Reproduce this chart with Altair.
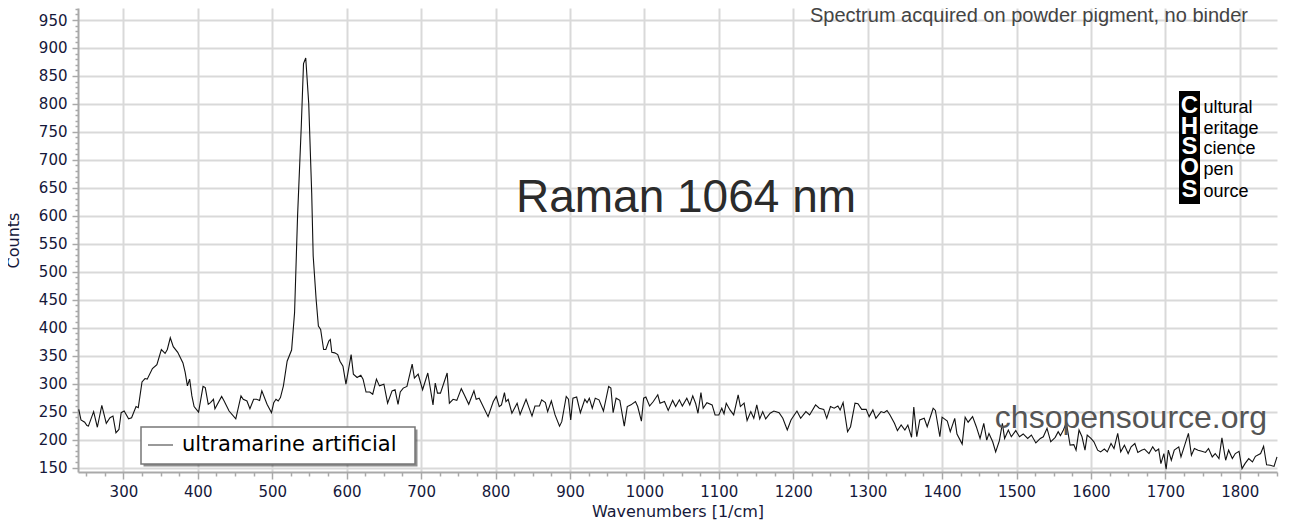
import altair as alt
import pandas as pd

series_name = "ultramarine artificial"

wavenumber = [
    240, 243, 248, 251, 253, 260, 265, 271, 277, 282, 286, 290, 294, 297, 301, 307, 311, 317, 320,
    325, 329, 332, 339, 345, 351, 356, 359, 363, 367, 373, 380, 383, 386, 389, 392, 395, 401, 407,
    410, 414, 417, 421, 423, 432, 435, 442, 451, 458, 461, 466, 470, 475, 479, 483, 486, 493, 499,
    502, 505, 508, 511, 515, 520, 526, 530, 534, 539, 542, 545, 549, 553, 555, 559, 562, 565, 569,
    572, 576, 578, 580, 584, 588, 591, 595, 599, 606, 609, 614, 619, 622, 626, 631, 635, 640, 644,
    650, 655, 661, 665, 669, 672, 676, 681, 688, 691, 696, 702, 709, 716, 719, 722, 726, 735, 738,
    743, 748, 754, 758, 764, 771, 774, 778, 790, 797, 801, 805, 808, 812, 814, 817, 822, 829, 833,
    841, 849, 853, 859, 862, 867, 870, 875, 880, 886, 889, 895, 898, 901, 904, 909, 914, 920, 923,
    926, 930, 934, 939, 945, 952, 955, 958, 962, 967, 973, 977, 982, 988, 991, 996, 999, 1002, 1007,
    1012, 1018, 1021, 1027, 1032, 1038, 1042, 1047, 1051, 1057, 1061, 1065, 1069, 1072, 1076, 1079,
    1084, 1091, 1095, 1100, 1104, 1107, 1110, 1115, 1120, 1126, 1129, 1134, 1138, 1143, 1147, 1151,
    1155, 1159, 1163, 1169, 1174, 1181, 1186, 1192, 1197, 1205, 1210, 1217, 1222, 1230, 1235, 1241,
    1245, 1250, 1255, 1260, 1263, 1267, 1273, 1277, 1283, 1287, 1292, 1298, 1302, 1307, 1311, 1318,
    1322, 1326, 1330, 1336, 1340, 1345, 1350, 1354, 1359, 1362, 1366, 1370, 1376, 1380, 1388, 1391,
    1397, 1400, 1407, 1411, 1417, 1420, 1427, 1431, 1435, 1441, 1446, 1451, 1456, 1460, 1463, 1468,
    1472, 1477, 1481, 1484, 1489, 1493, 1499, 1504, 1509, 1515, 1520, 1526, 1532, 1536, 1541, 1546,
    1552, 1556, 1559, 1563, 1567, 1572, 1577, 1580, 1584, 1588, 1592, 1595, 1600, 1604, 1609, 1613,
    1618, 1622, 1627, 1631, 1636, 1640, 1645, 1650, 1654, 1659, 1663, 1668, 1672, 1678, 1683, 1687,
    1691, 1694, 1698, 1701, 1704, 1708, 1712, 1718, 1721, 1726, 1731, 1735, 1739, 1744, 1749, 1754,
    1758, 1763, 1767, 1772, 1776, 1781, 1785, 1790, 1794, 1799, 1803, 1807, 1812, 1817, 1821, 1828,
    1832, 1836, 1841, 1846, 1850,
]

counts = [
    254, 235, 231, 225, 224, 250, 222, 261, 229, 239, 242, 212, 218, 248, 251, 237, 239, 259, 257,
    303, 309, 308, 327, 334, 361, 354, 361, 382, 366, 356, 337, 320, 296, 308, 278, 259, 249, 295,
    293, 263, 266, 272, 255, 277, 270, 251, 237, 278, 272, 269, 255, 272, 272, 270, 287, 263, 248,
    266, 272, 269, 275, 296, 340, 360, 427, 599, 760, 872, 882, 801, 641, 528, 450, 403, 397, 361,
    361, 376, 379, 356, 355, 352, 340, 331, 299, 352, 317, 311, 315, 308, 285, 285, 281, 308, 296,
    299, 265, 287, 289, 263, 285, 292, 295, 335, 310, 317, 289, 319, 262, 301, 283, 283, 319, 265,
    272, 270, 291, 280, 263, 287, 272, 274, 241, 268, 277, 259, 262, 284, 268, 272, 247, 265, 245,
    272, 242, 260, 260, 271, 266, 250, 269, 244, 224, 232, 277, 272, 235, 274, 276, 248, 272, 266,
    274, 256, 274, 271, 251, 295, 292, 248, 274, 270, 224, 259, 262, 268, 259, 233, 274, 276, 260,
    268, 280, 265, 268, 252, 270, 259, 271, 260, 274, 262, 278, 264, 247, 284, 256,
    266, 262, 244, 244, 256, 246, 265, 253, 244, 280, 259, 265, 234, 250, 238, 262,
    237, 250, 237, 247, 251, 248, 238, 217, 235, 251, 238, 250, 244, 262, 256, 254,
    238, 259, 256, 260, 253, 266, 214, 223, 265, 264, 254, 254, 241, 253, 238, 250,
    248, 252, 244, 229, 216, 226, 217, 226, 204, 258, 205, 235, 238, 223, 256, 252,
    205, 240, 233, 214, 238, 210, 192, 240, 231, 241, 223, 202, 229, 199, 211, 196,
    178, 198, 229, 202, 217, 205, 216, 205, 210, 202, 208, 194, 202, 205, 220, 196,
    204, 214, 207, 217, 230, 190, 191, 181, 217, 205, 181, 208, 202, 196, 181, 178,
    183, 178, 193, 184, 211, 178, 190, 175, 187, 193, 177, 181, 183, 175, 187, 179,
    183, 157, 175, 147, 181, 163, 181, 187, 169, 190, 211, 172, 184, 181, 179, 177,
    184, 169, 175, 166, 203, 163, 181, 166, 175, 179, 148, 157, 166, 160, 170, 175,
    188, 155, 154, 152, 169,
]

x_ticks = list(range(250, 1851, 25))
y_ticks = list(range(150, 971, 10))

logo_letters = ["C", "H", "S", "O", "S"]
logo_words = ["ultural", "eritage", "cience", "pen", "ource"]

note_text = "Spectrum acquired on powder pigment, no binder"
big_title = "Raman 1064 nm"
site_text = "chsopensource.org"

df = pd.DataFrame({"wn": wavenumber, "counts": counts, "series": series_name})
legend_df = pd.DataFrame({"wn": pd.Series([], dtype=float),
                          "counts": pd.Series([], dtype=float),
                          "series": pd.Series([], dtype=str)})

LBL = "#15183a"
axis_common = dict(
    labelFont="DejaVu Sans", labelFontSize=15, labelColor=LBL,
    titleFont="DejaVu Sans", titleFontSize=16, titleColor=LBL, titleFontWeight="normal",
    domainColor="#a9a9a9", domainWidth=2, tickColor="#a9a9a9", tickWidth=1.5,
    gridColor="#d9d9d9", gridWidth=2, labelOverlap=False, labelFlush=False, labelBound=False,
)

x_axis = alt.Axis(
    title="Wavenumbers [1/cm]", values=x_ticks, format="d",
    labelExpr="datum.value % 100 === 0 ? datum.label : ''",
    tickSize={"condition": {"test": "datum.value % 100 === 0", "value": 7}, "value": 4},
    gridOpacity={"condition": {"test": "datum.value % 100 === 0", "value": 1}, "value": 0},
    labelPadding=5, titleY=44, titleBaseline="alphabetic",
    **axis_common,
)
y_axis = alt.Axis(
    title="Counts", values=y_ticks, format="d",
    labelExpr="datum.value % 50 === 0 ? datum.label : ''",
    tickSize={"condition": {"test": "datum.value % 50 === 0", "value": 6}, "value": 3},
    gridOpacity={"condition": {"test": "datum.value % 50 === 0", "value": 1}, "value": 0},
    labelPadding=5, titleX=-65, titleBaseline="middle",
    **axis_common,
)

x_enc = alt.X("wn:Q", scale=alt.Scale(domain=[239, 1850], nice=False, zero=False), axis=x_axis)
y_enc = alt.Y("counts:Q", scale=alt.Scale(domain=[142, 971.5], nice=False, zero=False), axis=y_axis)

line = alt.Chart(df).mark_line(strokeWidth=1.1, color="#111111").encode(x=x_enc, y=y_enc)

legend_layer = alt.Chart(legend_df).mark_line(strokeWidth=1.5).encode(
    x=x_enc, y=y_enc,
    color=alt.Color(
        "series:N",
        scale=alt.Scale(domain=[series_name], range=["#777777"]),
        legend=alt.Legend(
            orient="none", legendX=63, legendY=417.5, title=None,
            padding=6, symbolType="stroke", symbolSize=625, symbolStrokeWidth=1.5,
            labelFont="DejaVu Sans", labelFontSize=21, labelColor="black",
            labelOffset=8, labelLimit=400,
        ),
    ),
)

one = pd.DataFrame({"k": [0]})


def txt(text, x, y, size, color, align="left", weight="normal", font="Liberation Sans", baseline="alphabetic"):
    return alt.Chart(one).mark_text(
        text=text, align=align, baseline=baseline, font=font, fontSize=size,
        color=color, fontWeight=weight,
    ).encode(x=alt.value(x), y=alt.value(y))


layers = [line, legend_layer]

# legend frame with a soft shadow
legend_shadow = alt.Chart(one).mark_rect(color="#333333", opacity=0.55).encode(
    x=alt.value(65.5), x2=alt.value(339.5), y=alt.value(421.5), y2=alt.value(458.5)
)
legend_frame = alt.Chart(one).mark_rect(fill="white", stroke="#777777", strokeWidth=1.5).encode(
    x=alt.value(63), x2=alt.value(337), y=alt.value(419), y2=alt.value(456)
)
layers += [legend_shadow, legend_frame]

layers.append(txt(note_text, 1170, 14, 20, "#444444", align="right"))
layers.append(txt(big_title, 608, 204, 46, "#2b2b2b", align="center"))
layers.append(txt(site_text, 1189, 420, 32, "#555555", align="right"))

logo_box = alt.Chart(one).mark_rect(color="black").encode(
    x=alt.value(1101), x2=alt.value(1122), y=alt.value(83), y2=alt.value(196)
)
layers.append(logo_box)
letter_base = [105, 125.5, 145.5, 167, 188.5]
for letter, word, yb in zip(logo_letters, logo_words, letter_base):
    layers.append(txt(letter, 1111.5, yb, 24, "white", align="center", weight="bold"))
    layers.append(txt(word, 1125.5, yb, 18, "black"))

chart = alt.layer(*layers).properties(
    width=1199, height=464,
    autosize=alt.AutoSizeParams(type="none"),
    padding={"left": 70, "top": 0, "right": 8, "bottom": 48},
).configure_view(stroke=None)

chart.save("out.html", embed_options={"renderer": "svg", "actions": False})
